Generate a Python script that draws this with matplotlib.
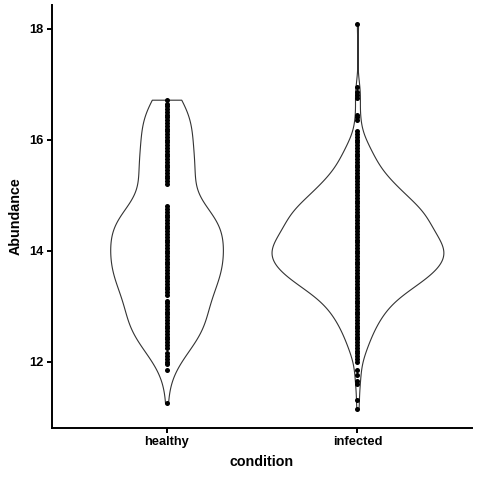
import numpy as np
import matplotlib
matplotlib.use("Agg")
import matplotlib.pyplot as plt

conditions = ["healthy", "infected"]

healthy_values = [16.72, 16.65, 16.60, 16.55, 16.50, 16.45, 16.40, 16.35, 16.30, 16.25,
                  16.20, 16.15, 16.10, 16.05, 16.00, 15.95, 15.90, 15.85, 15.80, 15.75,
                  15.70, 15.65, 15.60, 15.55, 15.50, 15.45, 15.40, 15.35, 15.30, 15.25,
                  15.20,
                  14.80, 14.75, 14.70, 14.65, 14.60, 14.55, 14.50, 14.45, 14.40, 14.35,
                  14.30, 14.25, 14.20, 14.15, 14.10, 14.05, 14.00, 13.95, 13.90, 13.85,
                  13.80, 13.75, 13.70, 13.65, 13.60, 13.55, 13.50, 13.45, 13.40, 13.35,
                  13.30, 13.25, 13.20, 13.10, 13.05, 13.00, 12.95, 12.90, 12.85, 12.80,
                  12.75, 12.70, 12.65, 12.60, 12.55, 12.50, 12.45, 12.40, 12.35, 12.30,
                  12.25, 12.15, 12.10, 12.05, 12.00, 11.95, 11.85, 11.25]
healthy_counts = [3, 3, 2, 2, 1, 2, 2, 2, 2, 2,
                  1, 2, 2, 2, 2, 2, 2, 1, 2, 2,
                  2, 2, 2, 1, 2, 2, 2, 3, 4, 4,
                  4,
                  5, 5, 5, 5, 5, 4, 4, 4, 4, 4,
                  4, 4, 4, 4, 4, 4, 4, 4, 4, 4,
                  5, 4, 4, 4, 4, 4, 4, 4, 4, 4,
                  4, 4, 3, 3, 3, 3, 3, 3, 3, 3,
                  3, 3, 3, 3, 3, 3, 3, 3, 2, 2,
                  2, 2, 1, 1, 1, 1, 1, 1]

infected_values = [18.08, 16.95, 16.85, 16.80, 16.75, 16.45, 16.40, 16.35, 16.15, 16.10,
                   16.05, 16.00, 15.95, 15.90, 15.85, 15.80, 15.75, 15.70, 15.65, 15.60,
                   15.55, 15.50, 15.45, 15.40, 15.35, 15.30, 15.25, 15.20, 15.15, 15.10,
                   15.05, 15.00, 14.95, 14.90, 14.85, 14.80, 14.75, 14.70, 14.65, 14.60,
                   14.55, 14.50, 14.45, 14.40, 14.35, 14.30, 14.25, 14.20, 14.15, 14.10,
                   14.05, 14.00, 13.95, 13.90, 13.85, 13.80, 13.75, 13.70, 13.65, 13.60,
                   13.55, 13.50, 13.45, 13.40, 13.35, 13.30, 13.25, 13.20, 13.15, 13.10,
                   13.05, 13.00, 12.95, 12.90, 12.85, 12.80, 12.75, 12.70, 12.65, 12.60,
                   12.55, 12.50, 12.45, 12.40, 12.35, 12.30, 12.25, 12.20, 12.15, 12.10,
                   12.05, 12.00, 11.85, 11.75, 11.65, 11.60, 11.30, 11.15]
infected_counts = [1, 1, 1, 1, 1, 1, 1, 1, 1, 1,
                   1, 1, 2, 2, 2, 2, 3, 3, 3, 3,
                   3, 4, 4, 4, 5, 5, 6, 6, 7, 7,
                   8, 8, 8, 9, 10, 11, 11, 11, 12, 12,
                   12, 12, 12, 12, 13, 13, 13, 14, 14, 15,
                   15, 15, 15, 15, 15, 15, 14, 14, 13, 13,
                   12, 12, 11, 10, 10, 9, 7, 7, 6, 6,
                   6, 5, 5, 4, 4, 4, 4, 3, 3, 3,
                   3, 2, 2, 2, 2, 2, 2, 1, 1, 1,
                   1, 1, 1, 1, 1, 1, 1, 1]

y_ticks = [12, 14, 16, 18]

groups = [(np.array(healthy_values), np.array(healthy_counts)),
          (np.array(infected_values), np.array(infected_counts))]


def bw_nrd0(v, w):
    n = w.sum()
    mean = (v * w).sum() / n
    sd = np.sqrt(((v - mean) ** 2 * w).sum() / (n - 1))
    expanded = np.repeat(v, w)
    q75, q25 = np.percentile(expanded, [75, 25])
    lo = min(sd, (q75 - q25) / 1.34)
    return 0.9 * lo * n ** -0.2


dens = []
for v, w in groups:
    bw = bw_nrd0(v, w)
    grid = np.linspace(v.min(), v.max(), 512)
    d = (w[None, :] * np.exp(-0.5 * ((grid[:, None] - v[None, :]) / bw) ** 2)).sum(axis=1)
    d = d / (w.sum() * bw * np.sqrt(2 * np.pi))
    dens.append((grid, d))
dmax = max(d.max() for _, d in dens)

plt.rcParams["font.family"] = ["Liberation Sans", "DejaVu Sans"]
fig = plt.figure(figsize=(4.8, 4.8), dpi=100)
ax = fig.add_axes([52 / 480, 52 / 480, 420 / 480, 423 / 480])

for i, ((v, w), (grid, d)) in enumerate(zip(groups, dens)):
    pos = i + 1
    half = d / dmax * 0.45
    ax.fill_betweenx(grid, pos - half, pos + half, facecolor="white",
                     edgecolor="#333333", linewidth=0.8, zorder=2)
    ax.plot(np.full(len(v), pos), v, "o", ms=3.6, color="black", mec="none", zorder=3)

allv = np.concatenate([g[0] for g in groups])
lo, hi = allv.min(), allv.max()
pad = (hi - lo) * 0.05
ax.set_ylim(lo - pad, hi + pad)
ax.set_xlim(0.4, 2.6)
ax.set_xticks([1, 2])
ax.set_xticklabels(conditions)
ax.set_yticks(y_ticks)
ax.set_yticklabels([str(t) for t in y_ticks])

for s in ["top", "right"]:
    ax.spines[s].set_visible(False)
for s in ["left", "bottom"]:
    ax.spines[s].set_linewidth(1.4)
    ax.spines[s].set_color("black")
ax.tick_params(width=1.4, length=3.6, colors="black", labelsize=9.3, pad=2.5)
for lab in ax.get_xticklabels() + ax.get_yticklabels():
    lab.set_fontweight("bold")
ax.set_xlabel("condition", fontsize=10.3, fontweight="bold", labelpad=5)
ax.set_ylabel("Abundance", fontsize=10.3, fontweight="bold", labelpad=5)

fig.savefig("out.png", dpi=100)
